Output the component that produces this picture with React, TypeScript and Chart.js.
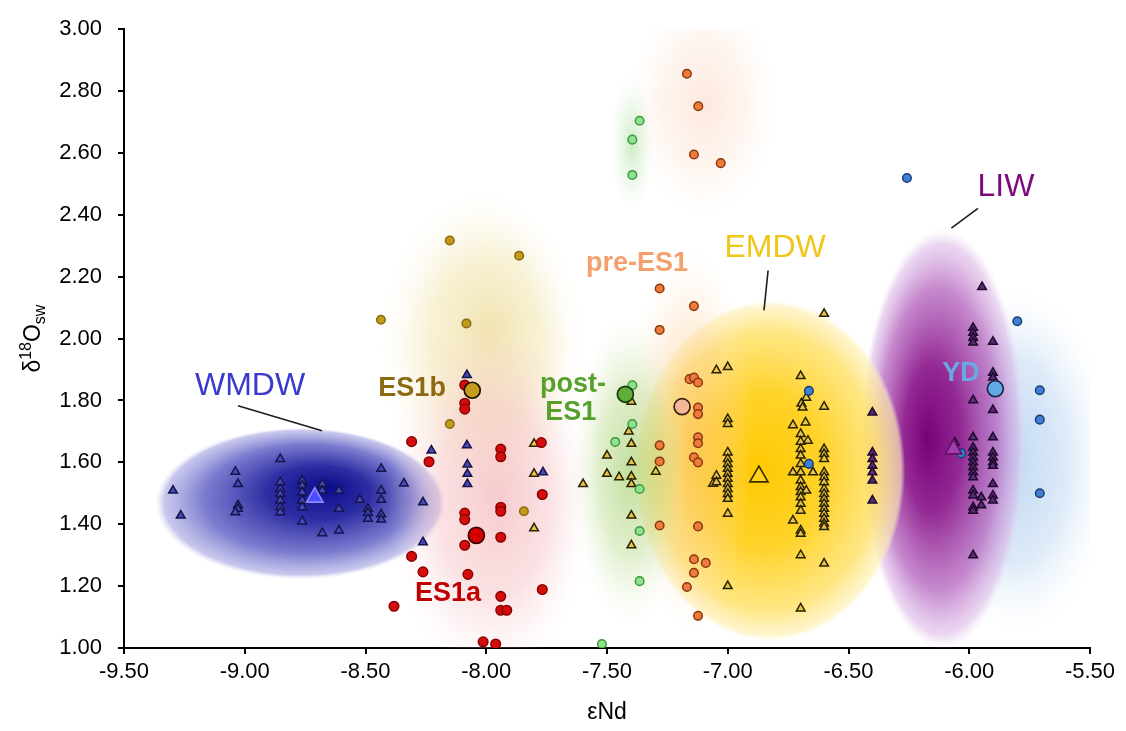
import React, { useEffect, useRef } from "react";
import { Chart, registerables } from "chart.js";

Chart.register(...registerables);

// Axis tick values
const xTickValues = [-9.5, -9.0, -8.5, -8.0, -7.5, -7.0, -6.5, -6.0, -5.5];
const yTickValues = [1.0, 1.2, 1.4, 1.6, 1.8, 2.0, 2.2, 2.4, 2.6, 2.8, 3.0];

// Seawater samples [εNd, δ18Osw]
const wmdw: [number, number][] = [
  [-9.297, 1.509], [-9.265, 1.428], [-9.039, 1.57], [-9.028, 1.53], [-9.028, 1.461], [-9.028, 1.45], [-9.039, 1.439],
  [-8.853, 1.611], [-8.853, 1.536], [-8.853, 1.514], [-8.853, 1.498], [-8.853, 1.477], [-8.853, 1.455], [-8.853, 1.439],
  [-8.762, 1.541], [-8.762, 1.525], [-8.762, 1.503], [-8.762, 1.477], [-8.762, 1.455], [-8.762, 1.409],
  [-8.679, 1.53], [-8.679, 1.509], [-8.61, 1.509], [-8.61, 1.45], [-8.679, 1.371], [-8.61, 1.38],
  [-8.524, 1.479], [-8.49, 1.45], [-8.49, 1.436], [-8.49, 1.418],
  [-8.435, 1.579], [-8.435, 1.509], [-8.435, 1.479], [-8.435, 1.432], [-8.435, 1.415],
  [-8.341, 1.532], [-8.262, 1.471], [-8.262, 1.342], [-8.227, 1.638],
  [-8.08, 1.882], [-8.08, 1.655], [-8.078, 1.593], [-8.078, 1.563], [-8.078, 1.53], [-7.765, 1.568],
];

const emdw: [number, number][] = [
  [-7.802, 1.66], [-7.802, 1.563], [-7.802, 1.387], [-7.599, 1.53], [-7.5, 1.622], [-7.5, 1.563], [-7.45, 1.552],
  [-7.399, 1.66], [-7.399, 1.6], [-7.399, 1.554], [-7.399, 1.53], [-7.399, 1.428], [-7.399, 1.332], [-7.399, 1.796],
  [-7.41, 1.7], [-7.298, 1.57], [-7.061, 1.531],
  [-7.047, 1.898], [-7.0, 1.908], [-7.0, 1.74], [-7.0, 1.724], [-7.047, 1.557], [-7.047, 1.536],
  [-7.0, 1.632], [-7.0, 1.611], [-7.0, 1.595], [-7.0, 1.579], [-7.0, 1.563], [-7.0, 1.547], [-7.0, 1.53],
  [-7.0, 1.514], [-7.0, 1.498], [-7.0, 1.482], [-7.0, 1.434], [-7.0, 1.2],
  [-6.698, 1.879], [-6.675, 1.809], [-6.695, 1.79], [-6.69, 1.777], [-6.678, 1.729], [-6.698, 1.692], [-6.698, 1.667],
  [-6.698, 1.643], [-6.698, 1.622], [-6.698, 1.595], [-6.698, 1.568], [-6.698, 1.541], [-6.698, 1.52], [-6.698, 1.504],
  [-6.698, 1.487], [-6.698, 1.466], [-6.698, 1.444], [-6.698, 1.38], [-6.698, 1.369], [-6.698, 1.3], [-6.698, 1.128],
  [-6.73, 1.72], [-6.73, 1.568], [-6.647, 1.568], [-6.675, 1.509], [-6.73, 1.412], [-6.668, 1.67],
  [-6.601, 2.08], [-6.601, 1.78], [-6.601, 1.643], [-6.601, 1.627], [-6.601, 1.611], [-6.601, 1.568], [-6.601, 1.552],
  [-6.601, 1.536], [-6.601, 1.514], [-6.601, 1.498], [-6.601, 1.482], [-6.601, 1.466], [-6.601, 1.45], [-6.601, 1.434],
  [-6.601, 1.418], [-6.601, 1.402], [-6.601, 1.391], [-6.601, 1.273],
];

const liw: [number, number][] = [
  [-6.401, 1.761], [-6.401, 1.632], [-6.401, 1.611], [-6.401, 1.589], [-6.401, 1.568], [-6.401, 1.541], [-6.401, 1.477],
  [-5.947, 2.167], [-5.984, 2.035], [-5.984, 2.019], [-5.984, 2.003], [-5.984, 1.987], [-5.902, 1.99],
  [-5.902, 1.89], [-5.902, 1.874], [-5.984, 1.801], [-5.902, 1.769], [-5.984, 1.681], [-5.902, 1.681], [-6.06, 1.664],
  [-5.984, 1.648], [-5.984, 1.632], [-5.984, 1.616], [-5.984, 1.6], [-5.984, 1.584], [-5.984, 1.568], [-5.984, 1.552],
  [-5.984, 1.509], [-5.984, 1.493], [-5.984, 1.455], [-5.984, 1.444], [-5.984, 1.3], [-5.95, 1.487], [-5.95, 1.461],
  [-5.902, 1.632], [-5.902, 1.616], [-5.902, 1.6], [-5.902, 1.589], [-5.902, 1.53], [-5.902, 1.493], [-5.902, 1.477],
];

const es1a: [number, number][] = [
  [-8.309, 1.667], [-8.237, 1.602], [-7.94, 1.643], [-7.94, 1.618], [-8.089, 1.85], [-8.089, 1.791], [-8.089, 1.772],
  [-8.089, 1.436], [-8.089, 1.415], [-7.94, 1.455], [-7.94, 1.442], [-8.089, 1.332], [-7.94, 1.358], [-8.309, 1.296],
  [-8.262, 1.246], [-8.076, 1.238], [-8.382, 1.135], [-7.94, 1.167], [-7.94, 1.122], [-7.915, 1.122], [-8.013, 1.02],
  [-7.961, 1.013], [-7.772, 1.664], [-7.768, 1.496], [-7.768, 1.189],
];

const es1b: [number, number][] = [
  [-8.151, 2.317], [-8.436, 2.061], [-8.082, 2.049], [-8.151, 1.724], [-7.864, 2.268], [-7.844, 1.442],
];

const preEs1: [number, number][] = [
  [-7.169, 2.856], [-7.122, 2.751], [-7.14, 2.595], [-7.029, 2.567], [-7.282, 2.162], [-7.14, 2.105], [-7.282, 2.028],
  [-7.158, 1.869], [-7.14, 1.874], [-7.123, 1.858], [-7.123, 1.777], [-7.123, 1.756], [-7.123, 1.681], [-7.123, 1.662],
  [-7.282, 1.655], [-7.282, 1.603], [-7.14, 1.616], [-7.123, 1.6], [-7.282, 1.396], [-7.123, 1.393], [-7.14, 1.287],
  [-7.091, 1.275], [-7.14, 1.243], [-7.169, 1.197], [-7.123, 1.104],
];

const postEs1: [number, number][] = [
  [-7.365, 2.704], [-7.395, 2.643], [-7.395, 2.529], [-7.395, 1.849], [-7.395, 1.724], [-7.466, 1.666],
  [-7.365, 1.514], [-7.365, 1.378], [-7.365, 1.216], [-7.521, 1.013],
];

const yd: [number, number][] = [
  [-6.258, 2.519], [-5.801, 2.056], [-5.708, 1.833], [-5.708, 1.738], [-5.708, 1.5], [-6.664, 1.831], [-6.664, 1.595],
  [-6.033, 1.629],
];

// Group means
const meanGroups = ["WMDW", "EMDW", "LIW", "ES1a", "ES1b", "post-ES1", "pre-ES1", "YD"];
const meanValues: [number, number][] = [
  [-8.71, 1.487], [-6.871, 1.554], [-6.065, 1.643], [-8.041, 1.364], [-8.058, 1.833], [-7.424, 1.82], [-7.189, 1.78],
  [-5.892, 1.838],
];

type Blob = {
  x: number; y: number; rx: number; ry: number; fx?: number; fy?: number;
  stops: [number, string][];
};

// Shaded envelopes of each water mass / interval (data units)
const envelopes: Blob[] = [
  { x: -8.02, y: 1.97, rx: 0.42, ry: 0.5, fx: 0.1, fy: -0.1,
    stops: [[0, "rgba(238,222,160,0.85)"], [0.55, "rgba(243,232,185,0.6)"], [1, "rgba(250,245,225,0)"]] },
  { x: -7.1, y: 2.76, rx: 0.3, ry: 0.36,
    stops: [[0, "rgba(250,214,192,0.55)"], [0.6, "rgba(252,228,212,0.35)"], [1, "rgba(255,240,232,0)"]] },
  { x: -7.397, y: 2.63, rx: 0.09, ry: 0.22,
    stops: [[0, "rgba(160,215,140,0.5)"], [1, "rgba(200,235,190,0)"]] },
  { x: -5.79, y: 1.605, rx: 0.38, ry: 0.55, fx: -0.2,
    stops: [[0, "rgba(150,190,235,0.65)"], [0.6, "rgba(180,208,240,0.45)"], [1, "rgba(225,238,250,0)"]] },
  { x: -6.109, y: 1.675, rx: 0.34, ry: 0.68, fx: -0.2, fy: 0.0,
    stops: [[0, "rgba(120,0,120,1)"], [0.35, "rgba(142,30,142,0.95)"], [0.72, "rgba(182,105,192,0.78)"],
      [0.93, "rgba(215,175,228,0.5)"], [1, "rgba(235,215,240,0)"]] },
  { x: -6.825, y: 1.573, rx: 0.56, ry: 0.55, fx: -0.1, fy: 0.0,
    stops: [[0, "rgba(255,200,0,1)"], [0.45, "rgba(255,208,30,0.95)"], [0.82, "rgba(255,226,110,0.85)"],
      [0.97, "rgba(255,240,180,0.65)"], [1, "rgba(255,248,215,0)"]] },
  { x: -8.77, y: 1.467, rx: 0.6, ry: 0.245, fx: 0.2, fy: -0.22,
    stops: [[0, "rgba(12,12,140,1)"], [0.35, "rgba(38,38,160,0.97)"], [0.72, "rgba(105,105,200,0.88)"],
      [0.95, "rgba(170,170,228,0.65)"], [1, "rgba(210,210,245,0)"]] },
  { x: -7.985, y: 1.48, rx: 0.42, ry: 0.58, fx: 0.1,
    stops: [[0, "rgba(242,170,175,0.62)"], [0.55, "rgba(245,190,195,0.45)"], [1, "rgba(252,225,228,0)"]] },
  { x: -7.156, y: 1.67, rx: 0.26, ry: 0.62,
    stops: [[0, "rgba(250,185,110,0.5)"], [0.6, "rgba(252,205,150,0.3)"], [1, "rgba(255,230,200,0)"]] },
  { x: -7.405, y: 1.573, rx: 0.24, ry: 0.5,
    stops: [[0, "rgba(150,200,90,0.6)"], [0.55, "rgba(180,215,130,0.4)"], [1, "rgba(220,238,200,0)"]] },
];

type Label = { text: string; x: number; y: number; color: string; font: string };

const labels: Label[] = [
  { text: "WMDW", x: -8.978, y: 1.847, color: "#3a3acc", font: '32px "Liberation Sans"' },
  { text: "EMDW", x: -6.804, y: 2.291, color: "#f1c619", font: '32px "Liberation Sans"' },
  { text: "LIW", x: -5.848, y: 2.49, color: "#7d0a7d", font: '32px "Liberation Sans"' },
  { text: "ES1b", x: -8.307, y: 1.837, color: "#8c6a12", font: 'bold 27px "Liberation Sans"' },
  { text: "post-", x: -7.641, y: 1.853, color: "#58a02c", font: 'bold 27px "Liberation Sans"' },
  { text: "ES1", x: -7.65, y: 1.76, color: "#58a02c", font: 'bold 27px "Liberation Sans"' },
  { text: "pre-ES1", x: -7.376, y: 2.243, color: "#f4a06c", font: 'bold 27px "Liberation Sans"' },
  { text: "YD", x: -6.034, y: 1.886, color: "#6aaae4", font: 'bold 27px "Liberation Sans"' },
  { text: "ES1a", x: -8.158, y: 1.177, color: "#c00000", font: 'bold 27px "Liberation Sans"' },
];

const leaders: [number, number, number, number][] = [
  [-9.028, 1.783, -8.68, 1.702],
  [-6.833, 2.22, -6.85, 2.091],
  [-5.964, 2.421, -6.074, 2.357],
];

function drawEnvelope(ctx: CanvasRenderingContext2D, xs: any, ys: any, b: Blob) {
  const cx = xs.getPixelForValue(b.x);
  const cy = ys.getPixelForValue(b.y);
  const rx = Math.abs(xs.getPixelForValue(b.x + b.rx) - cx);
  const ry = Math.abs(ys.getPixelForValue(b.y + b.ry) - cy);
  ctx.save();
  ctx.translate(cx, cy);
  ctx.scale(rx, ry);
  const g = ctx.createRadialGradient(b.fx ?? 0, b.fy ?? 0, 0, 0, 0, 1);
  b.stops.forEach(([o, c]) => g.addColorStop(o, c));
  ctx.fillStyle = g;
  ctx.beginPath();
  ctx.arc(0, 0, 1, 0, Math.PI * 2);
  ctx.fill();
  ctx.restore();
}

const annotationPlugin = {
  id: "waterMassAnnotations",
  beforeDatasetsDraw(chart: any) {
    const { ctx, chartArea, scales } = chart;
    const xs = scales.x;
    const ys = scales.y;
    ctx.save();
    ctx.beginPath();
    ctx.rect(chartArea.left, chartArea.top, chartArea.right - chartArea.left, chartArea.bottom - chartArea.top);
    ctx.clip();
    envelopes.forEach((b) => drawEnvelope(ctx, xs, ys, b));

    ctx.strokeStyle = "#1e1e1e";
    ctx.lineWidth = 1.6;
    leaders.forEach(([x1, y1, x2, y2]) => {
      ctx.beginPath();
      ctx.moveTo(xs.getPixelForValue(x1), ys.getPixelForValue(y1));
      ctx.lineTo(xs.getPixelForValue(x2), ys.getPixelForValue(y2));
      ctx.stroke();
    });

    ctx.textAlign = "center";
    ctx.textBaseline = "middle";
    labels.forEach((l) => {
      ctx.font = l.font;
      ctx.fillStyle = l.color;
      ctx.fillText(l.text, xs.getPixelForValue(l.x), ys.getPixelForValue(l.y));
    });
    ctx.restore();
  },
  afterDraw(chart: any) {
    const { ctx, chartArea } = chart;
    ctx.save();
    ctx.fillStyle = "#000";
    // x-axis title
    ctx.font = '23px "Liberation Sans"';
    ctx.textAlign = "center";
    ctx.textBaseline = "middle";
    ctx.fillText("εNd", (chartArea.left + chartArea.right) / 2, 713);

    // y-axis title: δ18Osw with superscript and subscript
    const big = '23px "Liberation Sans"';
    const small = '16px "Liberation Sans"';
    const parts: [string, string, number][] = [["δ", big, 0], ["18", small, -9], ["O", big, 0], ["sw", small, 5]];
    let total = 0;
    parts.forEach(([t, f]) => { ctx.font = f; total += ctx.measureText(t).width; });
    ctx.translate(40, (chartArea.top + chartArea.bottom) / 2);
    ctx.rotate(-Math.PI / 2);
    ctx.textAlign = "left";
    ctx.textBaseline = "alphabetic";
    let px = -total / 2;
    parts.forEach(([t, f, dy]) => {
      ctx.font = f;
      ctx.fillText(t, px, dy);
      px += ctx.measureText(t).width;
    });
    ctx.restore();
  },
};

function series(label: string, data: [number, number][], style: string, radius: number, fill: string, border: string) {
  return {
    label,
    data: data.map(([x, y]) => ({ x, y })),
    pointStyle: style,
    pointRadius: radius,
    pointBackgroundColor: fill,
    pointBorderColor: border,
    pointBorderWidth: 1.5,
  };
}

export default function App() {
  const canvasRef = useRef<HTMLCanvasElement | null>(null);

  useEffect(() => {
    if (!canvasRef.current) return;
    const meanStyles = ["triangle", "triangle", "triangle", "circle", "circle", "circle", "circle", "circle"];
    const meanRadius = [9.5, 10.5, 9.5, 8, 8, 8, 8, 8];
    const meanFill = ["#4b4bff", "#ffd21e", "#a040b0", "#d40000", "#c89a1c", "#5fae3a", "#f4b898", "#63a9e4"];
    const meanBorder = ["#8a8aff", "#3a3000", "#6a106a", "#3a0000", "#1a1000", "#1a3a10", "#3a2010", "#1a2a4a"];

    const chart = new Chart(canvasRef.current, {
      type: "scatter",
      data: {
        datasets: [
          {
            label: "Means",
            data: meanValues.map(([x, y]) => ({ x, y })),
            pointStyle: meanStyles as any,
            pointRadius: meanRadius,
            pointBackgroundColor: meanFill,
            pointBorderColor: meanBorder,
            pointBorderWidth: 1.7,
          } as any,
          series("YD", yd, "circle", 4.3, "#3f80d2", "#1b3d78"),
          series("post-ES1", postEs1, "circle", 4.3, "#8fe08f", "#3f9a3f"),
          series("pre-ES1", preEs1, "circle", 4.3, "#f07a3c", "#8a3a10"),
          series("ES1b", es1b, "circle", 4.3, "#c49a1a", "#8a6a10"),
          series("ES1a", es1a, "circle", 4.8, "#d40c0c", "#8a0000"),
          series("LIW", liw, "triangle", 5, "#5a2a7a", "#1e0a2a"),
          series("EMDW", emdw, "triangle", 5, "#e8c64a", "#2a2200"),
          series("WMDW", wmdw, "triangle", 5, "#4848b8", "#15154a"),
        ] as any,
      },
      options: {
        animation: false,
        responsive: false,
        devicePixelRatio: 1,
        layout: { padding: { top: 27, right: 36, left: 0, bottom: 0 } },
        plugins: { legend: { display: false }, tooltip: { enabled: false } },
        scales: {
          x: {
            type: "linear",
            min: -9.5,
            max: -5.5,
            afterBuildTicks: (s: any) => { s.ticks = xTickValues.map((v) => ({ value: v })); },
            afterFit: (s: any) => { s.height = 83; },
            ticks: {
              color: "#000",
              font: { family: "Liberation Sans", size: 22 },
              padding: 5,
              maxRotation: 0,
              callback: (v: any) => Number(v).toFixed(2),
            },
            grid: { drawOnChartArea: false, drawTicks: true, tickLength: 6, color: "#000", lineWidth: 2 },
            border: { display: true, color: "#000", width: 2 },
          },
          y: {
            type: "linear",
            min: 1,
            max: 3,
            afterBuildTicks: (s: any) => { s.ticks = yTickValues.map((v) => ({ value: v })); },
            afterFit: (s: any) => { s.width = 124; },
            ticks: {
              color: "#000",
              font: { family: "Liberation Sans", size: 22 },
              padding: 16,
              callback: (v: any) => Number(v).toFixed(2),
            },
            grid: { drawOnChartArea: false, drawTicks: true, tickLength: 6, color: "#000", lineWidth: 2 },
            border: { display: true, color: "#000", width: 2 },
          },
        },
      },
      plugins: [annotationPlugin],
    });
    return () => chart.destroy();
  }, []);

  return (
    <div style={{ position: "absolute", left: 0, top: 0, width: 1126, height: 731, background: "#fff" }}>
      <canvas ref={canvasRef} width={1126} height={731} />
    </div>
  );
}
